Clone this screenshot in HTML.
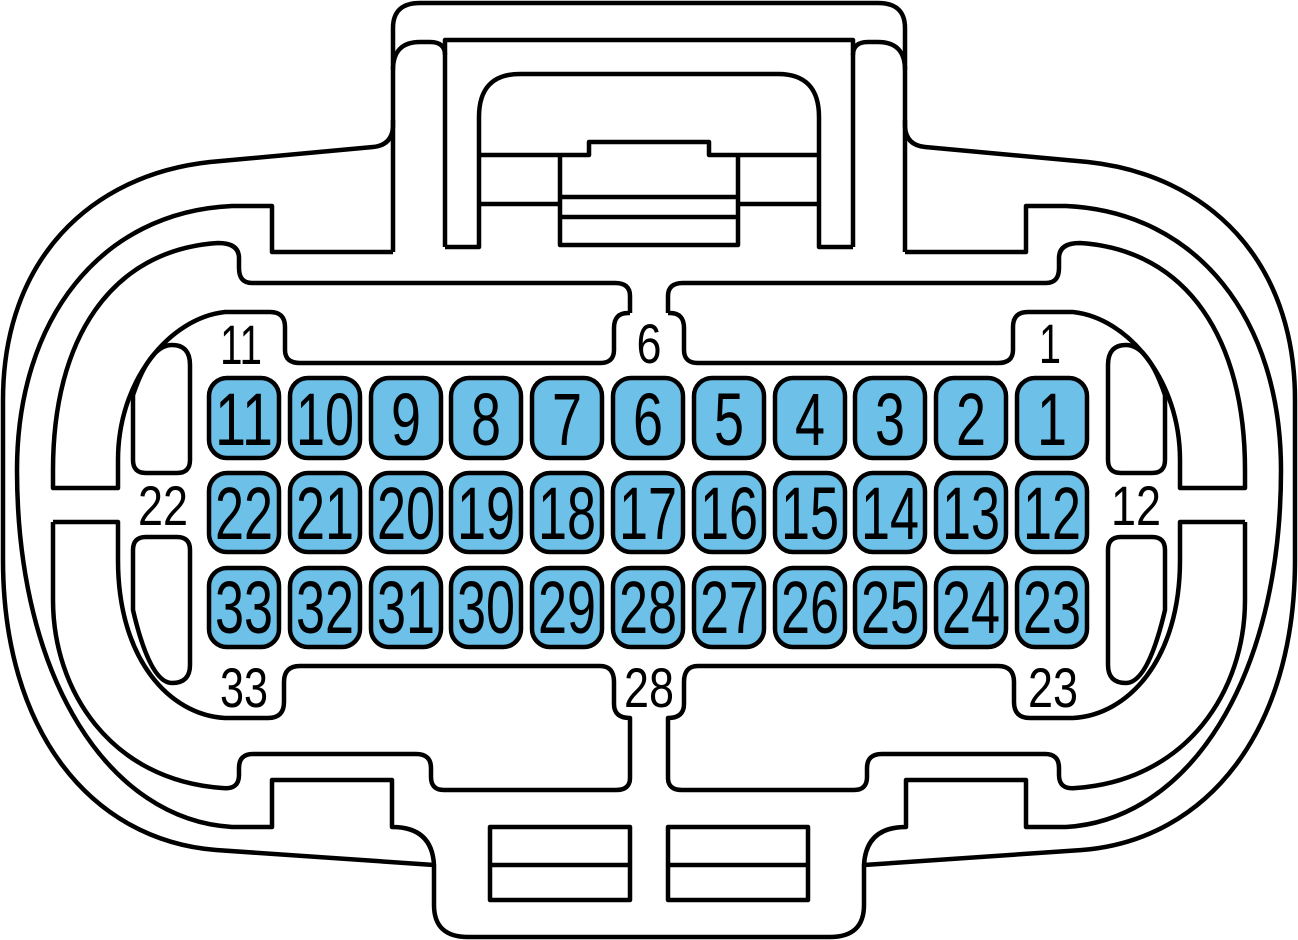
<!DOCTYPE html>
<html><head><meta charset="utf-8"><style>
html,body{margin:0;padding:0;background:#fff;width:1298px;height:940px;overflow:hidden}
svg{display:block}
</style></head><body>
<svg width="1298" height="940" viewBox="0 0 1298 940" xmlns="http://www.w3.org/2000/svg">
<defs>
<g id="L" fill="none" stroke="#000" stroke-width="4.5" stroke-linejoin="round">
  <path d="M649,3 H420 Q393,3 393,28 V125 Q393,145 373,147 L210,162 C90,175 3,260 3,400 V560 C3,730 90,840 216,850 L434,865 V905 Q434,937 468,937 H649"/>
  <path d="M393,120 V252"/>
  <path d="M393,252 H272 V206 H232 C100,212 17,320 17,470 C17,680 110,820 232,827 H272 V780 H392 V827 Q432,827 434,865"/>
  <path d="M393,70 Q393,42 420,42 H430 Q445,42 445,55"/>
  <path d="M445,247 V40 H649"/>
  <path d="M445,247 H479 V117 Q479,74 520,74 H649"/>
  <path d="M479,155 H589 V142 H649"/>
  <path d="M479,204 H560"/>
  <path d="M560,155 V245 H649"/>
  <path d="M560,197 H649 M560,217 H649"/>
  <path d="M630,313 V296 Q630,283 615,283 H252 Q239,283 239,268 V258 Q239,243 218,243 C110,250 53,340 53,470 V488 H118 V460 C118,380 170,318 225,312 H270 Q285,312 285,327 V350 Q285,363 300,363 H600 Q614,363 614,350 V328 Q614,313 628,313 H630"/>
  <path d="M53,522 H118 V560 C118,660 170,715 225,718 H268 Q284,718 284,702 V682 Q284,666 300,666 H600 Q614,666 614,682 V704 Q614,718 630,718 V778 Q630,790 616,790 H444 Q431,790 431,777 V768 Q431,754 416,754 H253 Q239,754 239,768 V775 Q239,790 222,788 C110,780 53,690 53,600 V522"/>
  <path d="M190,460 V365 Q190,345 172,345 Q150,345 133,395 V460 Q133,473 146,473 H177 Q190,473 190,460 Z"/>
  <path d="M190,550 Q190,537 177,537 H146 Q133,537 133,550 V610 Q150,683 172,683 Q190,683 190,665 Z"/>
  <rect x="490" y="827" width="140" height="73"/>
  <path d="M490,865 H630"/>
</g>
</defs>
<use href="#L"/>
<use href="#L" transform="translate(1298,0) scale(-1,1)"/>

<g fill="#6dc1e8" stroke="#000" stroke-width="4.5">
  <rect x="209" y="378" width="70" height="80" rx="18"/><rect x="290" y="378" width="70" height="80" rx="18"/><rect x="371" y="378" width="70" height="80" rx="18"/><rect x="451" y="378" width="70" height="80" rx="18"/><rect x="532" y="378" width="70" height="80" rx="18"/><rect x="613" y="378" width="70" height="80" rx="18"/><rect x="694" y="378" width="70" height="80" rx="18"/><rect x="775" y="378" width="70" height="80" rx="18"/><rect x="855" y="378" width="70" height="80" rx="18"/><rect x="936" y="378" width="70" height="80" rx="18"/><rect x="1017" y="378" width="70" height="80" rx="18"/>
  <rect x="209" y="473" width="70" height="79" rx="18"/><rect x="290" y="473" width="70" height="79" rx="18"/><rect x="371" y="473" width="70" height="79" rx="18"/><rect x="451" y="473" width="70" height="79" rx="18"/><rect x="532" y="473" width="70" height="79" rx="18"/><rect x="613" y="473" width="70" height="79" rx="18"/><rect x="694" y="473" width="70" height="79" rx="18"/><rect x="775" y="473" width="70" height="79" rx="18"/><rect x="855" y="473" width="70" height="79" rx="18"/><rect x="936" y="473" width="70" height="79" rx="18"/><rect x="1017" y="473" width="70" height="79" rx="18"/>
  <rect x="209" y="568" width="70" height="79" rx="18"/><rect x="290" y="568" width="70" height="79" rx="18"/><rect x="371" y="568" width="70" height="79" rx="18"/><rect x="451" y="568" width="70" height="79" rx="18"/><rect x="532" y="568" width="70" height="79" rx="18"/><rect x="613" y="568" width="70" height="79" rx="18"/><rect x="694" y="568" width="70" height="79" rx="18"/><rect x="775" y="568" width="70" height="79" rx="18"/><rect x="855" y="568" width="70" height="79" rx="18"/><rect x="936" y="568" width="70" height="79" rx="18"/><rect x="1017" y="568" width="70" height="79" rx="18"/>
</g>

<g font-family="Liberation Sans, sans-serif" font-size="74" text-anchor="middle" fill="#000">
  <text x="244" y="445" textLength="58" lengthAdjust="spacingAndGlyphs">11</text>
  <text x="325" y="445" textLength="58" lengthAdjust="spacingAndGlyphs">10</text>
  <text x="406" y="445" textLength="30" lengthAdjust="spacingAndGlyphs">9</text>
  <text x="486" y="445" textLength="30" lengthAdjust="spacingAndGlyphs">8</text>
  <text x="567" y="445" textLength="30" lengthAdjust="spacingAndGlyphs">7</text>
  <text x="648" y="445" textLength="30" lengthAdjust="spacingAndGlyphs">6</text>
  <text x="729" y="445" textLength="30" lengthAdjust="spacingAndGlyphs">5</text>
  <text x="810" y="445" textLength="30" lengthAdjust="spacingAndGlyphs">4</text>
  <text x="890" y="445" textLength="30" lengthAdjust="spacingAndGlyphs">3</text>
  <text x="971" y="445" textLength="30" lengthAdjust="spacingAndGlyphs">2</text>
  <text x="1052" y="445" textLength="30" lengthAdjust="spacingAndGlyphs">1</text>
  <text x="244" y="539" textLength="58" lengthAdjust="spacingAndGlyphs">22</text>
  <text x="325" y="539" textLength="58" lengthAdjust="spacingAndGlyphs">21</text>
  <text x="406" y="539" textLength="58" lengthAdjust="spacingAndGlyphs">20</text>
  <text x="486" y="539" textLength="58" lengthAdjust="spacingAndGlyphs">19</text>
  <text x="567" y="539" textLength="58" lengthAdjust="spacingAndGlyphs">18</text>
  <text x="648" y="539" textLength="58" lengthAdjust="spacingAndGlyphs">17</text>
  <text x="729" y="539" textLength="58" lengthAdjust="spacingAndGlyphs">16</text>
  <text x="810" y="539" textLength="58" lengthAdjust="spacingAndGlyphs">15</text>
  <text x="890" y="539" textLength="58" lengthAdjust="spacingAndGlyphs">14</text>
  <text x="971" y="539" textLength="58" lengthAdjust="spacingAndGlyphs">13</text>
  <text x="1052" y="539" textLength="58" lengthAdjust="spacingAndGlyphs">12</text>
  <text x="244" y="633" textLength="58" lengthAdjust="spacingAndGlyphs">33</text>
  <text x="325" y="633" textLength="58" lengthAdjust="spacingAndGlyphs">32</text>
  <text x="406" y="633" textLength="58" lengthAdjust="spacingAndGlyphs">31</text>
  <text x="486" y="633" textLength="58" lengthAdjust="spacingAndGlyphs">30</text>
  <text x="567" y="633" textLength="58" lengthAdjust="spacingAndGlyphs">29</text>
  <text x="648" y="633" textLength="58" lengthAdjust="spacingAndGlyphs">28</text>
  <text x="729" y="633" textLength="58" lengthAdjust="spacingAndGlyphs">27</text>
  <text x="810" y="633" textLength="58" lengthAdjust="spacingAndGlyphs">26</text>
  <text x="890" y="633" textLength="58" lengthAdjust="spacingAndGlyphs">25</text>
  <text x="971" y="633" textLength="58" lengthAdjust="spacingAndGlyphs">24</text>
  <text x="1052" y="633" textLength="58" lengthAdjust="spacingAndGlyphs">23</text>
</g>
<g font-family="Liberation Sans, sans-serif" font-size="56" text-anchor="middle" fill="#000">
  <text x="241" y="364" textLength="42" lengthAdjust="spacingAndGlyphs">11</text>
  <text x="649" y="363" textLength="25" lengthAdjust="spacingAndGlyphs">6</text>
  <text x="1050" y="363" textLength="22" lengthAdjust="spacingAndGlyphs">1</text>
  <text x="163" y="525" textLength="50" lengthAdjust="spacingAndGlyphs">22</text>
  <text x="1136" y="525" textLength="50" lengthAdjust="spacingAndGlyphs">12</text>
  <text x="244" y="707" textLength="48" lengthAdjust="spacingAndGlyphs">33</text>
  <text x="649" y="707" textLength="50" lengthAdjust="spacingAndGlyphs">28</text>
  <text x="1053" y="707" textLength="50" lengthAdjust="spacingAndGlyphs">23</text>
</g>
</svg>
</body></html>
